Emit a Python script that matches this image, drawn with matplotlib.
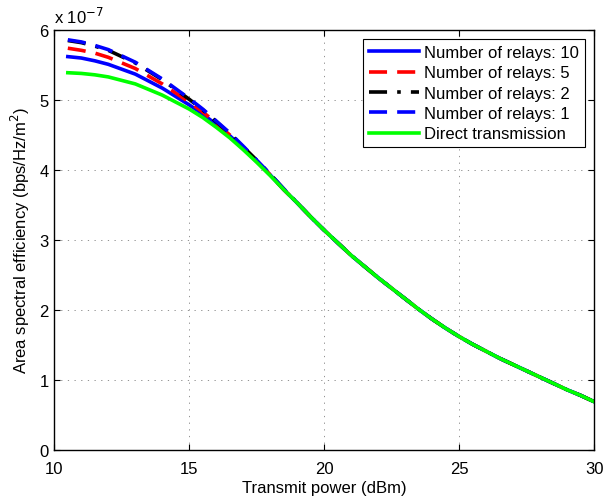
import numpy as np
import matplotlib
matplotlib.use("Agg")
import matplotlib.pyplot as plt

plt.rcParams['font.family'] = ['Liberation Sans', 'DejaVu Sans']

# transmit power (dBm)
power = [10.5, 11, 11.5, 12, 12.5, 13, 13.5, 14, 14.5, 15, 15.5, 16, 16.5,
         17, 17.5, 18, 18.5, 19, 19.5, 20, 20.5, 21, 21.5, 22, 22.5, 23,
         23.5, 24, 24.5, 25, 25.5, 26, 26.5, 27, 27.5, 28, 28.5, 29, 29.5, 30]

# common tail of all curves from 19 dBm on (units of 1e-7 bps/Hz/m^2)
tail = [3.53, 3.33, 3.14, 2.96, 2.78, 2.62, 2.46, 2.31, 2.16, 2.01, 1.87,
        1.74, 1.62, 1.51, 1.41, 1.31, 1.22, 1.13, 1.04, 0.95, 0.86, 0.78, 0.69]

ase_relay10 = [5.62, 5.60, 5.56, 5.51, 5.44, 5.37, 5.27, 5.17, 5.05, 4.93,
               4.80, 4.65, 4.49, 4.31, 4.12, 3.93, 3.72] + tail
ase_relay5 = [5.74, 5.71, 5.67, 5.61, 5.53, 5.45, 5.34, 5.23, 5.10, 4.97,
              4.83, 4.67, 4.50, 4.32, 4.13, 3.93, 3.72] + tail
ase_relay2 = [5.85, 5.82, 5.77, 5.71, 5.62, 5.53, 5.41, 5.29, 5.15, 5.01,
              4.86, 4.69, 4.52, 4.33, 4.14, 3.94, 3.73] + tail
ase_relay1 = [5.86, 5.83, 5.78, 5.72, 5.63, 5.54, 5.42, 5.30, 5.16, 5.02,
              4.87, 4.70, 4.53, 4.34, 4.14, 3.94, 3.73] + tail
ase_direct = [5.39, 5.38, 5.36, 5.33, 5.28, 5.23, 5.15, 5.07, 4.97, 4.87,
              4.75, 4.61, 4.46, 4.29, 4.11, 3.92, 3.72] + tail

labels = ['Number of relays: 10', 'Number of relays: 5', 'Number of relays: 2',
          'Number of relays: 1', 'Direct transmission']

fig = plt.figure(figsize=(6.05, 5.02), dpi=100)
ax = fig.add_axes([0.0898, 0.1016, 0.8922, 0.8366])

lw = 2.6
dash = (0, (5, 2.8))
dashdot = (0, (5, 2.8, 1, 2.8))
ax.plot(power, ase_relay10, color='b', linestyle='-', lw=lw, label=labels[0])
ax.plot(power, ase_relay5, color='r', linestyle=dash, lw=lw, label=labels[1])
ax.plot(power, ase_relay2, color='k', linestyle=dashdot, lw=lw, label=labels[2])
ax.plot(power, ase_relay1, color='b', linestyle=dash, lw=lw, label=labels[3])
ax.plot(power, ase_direct, color=(0, 1, 0), linestyle='-', lw=lw, label=labels[4])

ax.set_xlim(10, 30)
ax.set_ylim(0, 6)
ax.set_xticks([10, 15, 20, 25, 30])
ax.set_yticks([0, 1, 2, 3, 4, 5, 6])
ax.grid(True, color='0.5', linestyle=(0, (1.5, 6.5)), lw=0.6)
ax.tick_params(direction='in', top=True, right=True, length=4, width=0.8,
               labelsize=12)
ax.tick_params(axis='x', pad=8)
ax.tick_params(axis='y', pad=4)
for sp in ax.spines.values():
    sp.set_linewidth(1.0)

ax.set_xlabel('Transmit power (dBm)', fontsize=12, labelpad=3)
ax.set_ylabel('Area spectral efficiency (bps/Hz/m$^2$)', fontsize=12, labelpad=5)
ax.text(0.0, 1.01, 'x 10$^{-7}$', transform=ax.transAxes, fontsize=12,
        ha='left', va='bottom')

leg = ax.legend(loc='upper right', fontsize=12, handlelength=3.0,
                handletextpad=0.3, labelspacing=0.32, borderaxespad=0.55,
                fancybox=False, framealpha=1, edgecolor='k', borderpad=0.35)
leg.get_frame().set_linewidth(0.8)

fig.savefig('out.png', dpi=100)
